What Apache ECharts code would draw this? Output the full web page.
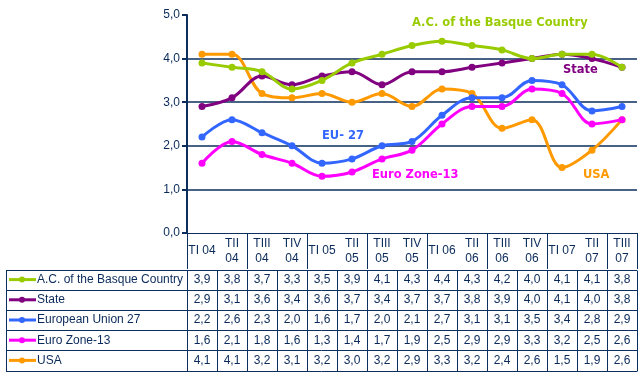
<!DOCTYPE html>
<html>
<head>
<meta charset="utf-8">
<script src="https://cdn.jsdelivr.net/npm/echarts@6/dist/echarts.min.js"></script>
<style>
  html, body { margin: 0; padding: 0; background: #fff; }
  #chart { width: 643px; height: 377px; }
</style>
</head>
<body>
<div id="chart"></div>
<script>
const categories = ["TI 04", "TII\n04", "TIII\n04", "TIV\n04", "TI 05", "TII\n05", "TIII\n05", "TIV\n05",
  "TI 06", "TII\n06", "TIII\n06", "TIV\n06", "TI 07", "TII\n07", "TIII\n07"];
const seriesNames = ["A.C. of the Basque Country", "State", "European Union 27", "Euro Zone-13", "USA"];
const basque = [3.9, 3.8, 3.7, 3.3, 3.5, 3.9, 4.1, 4.3, 4.4, 4.3, 4.2, 4.0, 4.1, 4.1, 3.8];
const state = [2.9, 3.1, 3.6, 3.4, 3.6, 3.7, 3.4, 3.7, 3.7, 3.8, 3.9, 4.0, 4.1, 4.0, 3.8];
const eu27 = [2.2, 2.6, 2.3, 2.0, 1.6, 1.7, 2.0, 2.1, 2.7, 3.1, 3.1, 3.5, 3.4, 2.8, 2.9];
const euroZone = [1.6, 2.1, 1.8, 1.6, 1.3, 1.4, 1.7, 1.9, 2.5, 2.9, 2.9, 3.3, 3.2, 2.5, 2.6];
const usa = [4.1, 4.1, 3.2, 3.1, 3.2, 3.0, 3.2, 2.9, 3.3, 3.2, 2.4, 2.6, 1.5, 1.9, 2.6];
const yTicks = [0, 1, 2, 3, 4, 5];

const allData = [basque, state, eu27, euroZone, usa];
const colors = ["#99cc00", "#800080", "#3366ff", "#ff00ff", "#ff9900"];
const navy = "#0b2e5e";
const textColor = "#0a2a5a";

const chart = echarts.init(document.getElementById("chart"));

const fmt = (v) => v.toFixed(1).replace(".", ",");

const option = {
  animation: false,
  grid: { left: 187, right: 6, top: 15, bottom: 144 },
  xAxis: {
    type: "category",
    data: categories,
    boundaryGap: true,
    axisLine: { lineStyle: { color: navy, width: 1 } },
    axisTick: { show: true, length: 36, inside: false, lineStyle: { color: navy } },
    axisLabel: { show: false }
  },
  yAxis: {
    type: "value",
    min: yTicks[0],
    max: yTicks[yTicks.length - 1],
    interval: 1,
    axisLine: { show: true, lineStyle: { color: navy, width: 2 } },
    axisTick: { show: true, length: 5, lineStyle: { color: navy, width: 2 } },
    axisLabel: {
      color: textColor, fontFamily: "Liberation Sans, Arial", fontSize: 12, margin: 7,
      formatter: (v) => fmt(v)
    },
    splitLine: {
      show: true,
      lineStyle: { color: ["transparent", navy, navy, navy, navy, "transparent"], width: 1.5 }
    }
  },
  series: allData.map((d, i) => ({
    name: seriesNames[i],
    type: "line",
    data: d,
    smooth: 0.35,
    symbol: "circle",
    symbolSize: 7,
    color: colors[i],
    lineStyle: { width: 3, color: colors[i] },
    itemStyle: { color: colors[i] },
    z: 10 - i
  }))
};

chart.setOption(option);

// table under the plot, built from the same arrays, column positions from the x axis
const g = [];
const headTop = 233, rowTop = 269.5, rowH = 20.2, tableLeft = 6, plotLeft = 187, plotRight = 637;
const nRows = allData.length;
const bottom = rowTop + rowH * nRows;
const lineStyle = { stroke: navy, lineWidth: 1 };

// horizontal borders
for (let r = 0; r <= nRows; r++) {
  const y = Math.round(rowTop + r * rowH) + 0.5;
  g.push({ type: "line", shape: { x1: tableLeft, y1: y, x2: plotRight, y2: y }, style: lineStyle, silent: true });
}
// verticals
const colX = [];
for (let i = 0; i <= categories.length; i++) {
  colX.push(plotLeft + (plotRight - plotLeft) * i / categories.length);
}
colX.forEach((x) => {
  const xx = Math.round(x) + 0.5;
  g.push({ type: "line", shape: { x1: xx, y1: Math.round(rowTop) + 0.5, x2: xx, y2: Math.round(bottom) + 0.5 }, style: lineStyle, silent: true });
});
g.push({ type: "line", shape: { x1: tableLeft + 0.5, y1: Math.round(rowTop) + 0.5, x2: tableLeft + 0.5, y2: Math.round(bottom) + 0.5 }, style: lineStyle, silent: true });

// header labels
categories.forEach((c, i) => {
  const cx = chart.convertToPixel({ xAxisIndex: 0 }, i);
  g.push({
    type: "text", silent: true,
    style: {
      x: cx, y: headTop + 18, text: c, align: "center", verticalAlign: "middle",
      fill: textColor, font: "12px Liberation Sans, Arial", lineHeight: 15
    }
  });
});

// rows: legend key + name + values
allData.forEach((d, r) => {
  const cy = rowTop + rowH * (r + 0.5);
  g.push({ type: "line", silent: true, shape: { x1: 9, y1: cy, x2: 36, y2: cy }, style: { stroke: colors[r], lineWidth: 3 } });
  g.push({ type: "circle", silent: true, shape: { cx: 22, cy: cy, r: 3 }, style: { fill: colors[r] } });
  g.push({
    type: "text", silent: true,
    style: { x: 37, y: cy, text: seriesNames[r], verticalAlign: "middle", fill: textColor, font: "12px Liberation Sans, Arial" }
  });
  d.forEach((v, i) => {
    const cx = chart.convertToPixel({ xAxisIndex: 0 }, i);
    g.push({
      type: "text", silent: true,
      style: { x: cx, y: cy, text: fmt(v), align: "center", verticalAlign: "middle", fill: textColor, font: "12px Liberation Sans, Arial" }
    });
  });
});

// series annotations
const notes = [
  { text: "A.C. of the Basque Country", x: 412, y: 23, c: colors[0] },
  { text: "State", x: 563, y: 70, c: colors[1] },
  { text: "EU- 27", x: 322, y: 136, c: colors[2] },
  { text: "Euro Zone-13", x: 372, y: 175, c: colors[3] },
  { text: "USA", x: 583, y: 175, c: colors[4] }
];
notes.forEach((n) => {
  g.push({
    type: "text", silent: true, z: 20,
    style: { x: n.x, y: n.y, text: n.text, verticalAlign: "middle", fill: n.c, font: "bold 11.5px DejaVu Sans, Verdana" }
  });
});

chart.setOption({ graphic: g });
</script>
</body>
</html>
